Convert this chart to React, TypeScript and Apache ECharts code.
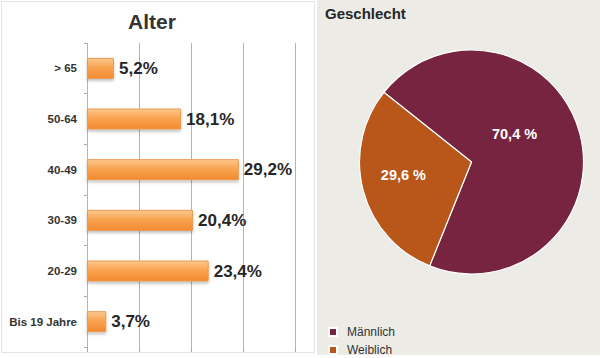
import React, { useEffect, useRef } from "react";
import * as echarts from "echarts";

const ageCategories = ["> 65", "50-64", "40-49", "30-39", "20-29", "Bis 19 Jahre"];
const ageValues = [5.2, 18.1, 29.2, 20.4, 23.4, 3.7];
const genderNames = ["Männlich", "Weiblich"];
const genderValues = [70.4, 29.6];
const genderColors = ["#772441", "#b9561a"];

const FONT = "'Liberation Sans', Arial, Helvetica, sans-serif";

export default function App() {
  const ref = useRef<HTMLDivElement>(null);
  useEffect(() => {
    document.body.style.margin = "0";
    const chart = echarts.init(ref.current!, undefined, { renderer: "svg" });
    const fmt = (v: number) => v.toFixed(1).replace(".", ",");
    chart.setOption({
      animation: false,
      backgroundColor: "#ffffff",
      textStyle: { fontFamily: FONT },
      graphic: [
        {
          type: "rect",
          z: -10,
          shape: { x: 1.5, y: 1.5, width: 313, height: 351 },
          style: { fill: "#ffffff", stroke: "#e4e4e2", lineWidth: 1 },
        },
        {
          type: "rect",
          z: -10,
          shape: { x: 317, y: 0, width: 283, height: 355 },
          style: { fill: "#ecebe6" },
        },
        {
          type: "text",
          x: 152,
          y: 21,
          style: {
            text: "Alter",
            fill: "#333333",
            font: `bold 21px ${FONT}`,
            align: "center",
            verticalAlign: "middle",
          },
        },
        {
          type: "text",
          x: 325,
          y: 13,
          style: {
            text: "Geschlecht",
            fill: "#262626",
            font: `bold 15px ${FONT}`,
            align: "left",
            verticalAlign: "middle",
          },
        },
      ],
      grid: { left: 87, top: 43, width: 208, height: 304, containLabel: false },
      xAxis: {
        type: "value",
        min: 0,
        max: 40,
        interval: 10,
        axisLine: { show: false },
        axisTick: { show: true, length: 5, lineStyle: { color: "#a8a8a8" } },
        axisLabel: { show: false },
        splitLine: { show: true, lineStyle: { color: "#b4b4b4", width: 1 } },
      },
      yAxis: {
        type: "category",
        inverse: true,
        data: ageCategories,
        axisLine: { show: true, lineStyle: { color: "#b4b4b4" } },
        axisTick: { show: true, length: 3, lineStyle: { color: "#a8a8a8" } },
        axisLabel: {
          margin: 10,
          fontSize: 11.5,
          fontWeight: "bold",
          color: "#333333",
          fontFamily: FONT,
        },
      },
      legend: {
        data: genderNames,
        orient: "vertical",
        left: 328,
        top: 326,
        padding: 0,
        itemWidth: 8,
        itemHeight: 8,
        itemGap: 6,
        icon: "rect",
        textStyle: { fontSize: 12, color: "#333333", fontFamily: FONT, padding: [0, 0, 0, 5] },
      },
      series: [
        {
          type: "bar",
          data: ageValues,
          barWidth: 21,
          itemStyle: {
            color: new echarts.graphic.LinearGradient(0, 0, 0, 1, [
              { offset: 0, color: "#fcc88e" },
              { offset: 0.45, color: "#f9a451" },
              { offset: 1, color: "#f28a30" },
            ]),
            borderColor: "#eb9a50",
            borderWidth: 1,
            shadowColor: "rgba(0,0,0,0.25)",
            shadowOffsetY: 2,
            shadowBlur: 3,
          },
          label: {
            show: true,
            position: "right",
            distance: 5,
            fontSize: 17,
            fontWeight: "bold",
            color: "#262626",
            fontFamily: FONT,
            formatter: (p: any) => fmt(p.value) + "%",
          },
        },
        {
          type: "pie",
          center: [471.5, 162],
          radius: 112,
          startAngle: 141.5,
          clockwise: true,
          data: genderNames.map((n, i) => ({
            name: n,
            value: genderValues[i],
            itemStyle: { color: genderColors[i] },
          })),
          itemStyle: { borderColor: "#ffffff", borderWidth: 1.2 },
          label: {
            show: true,
            position: "inside",
            color: "#ffffff",
            fontSize: 14.5,
            fontWeight: "bold",
            fontFamily: FONT,
            formatter: (p: any) => fmt(p.value) + " %",
          },
          labelLine: { show: false },
          labelLayout: (p: any) =>
            p.dataIndex === 0 ? { dx: -14, dy: -13 } : { dx: -11, dy: -2 },
        },
      ],
    });
    return () => chart.dispose();
  }, []);
  return (
    <div
      ref={ref}
      style={{ position: "fixed", left: 0, top: 0, width: 600, height: 358 }}
    />
  );
}
